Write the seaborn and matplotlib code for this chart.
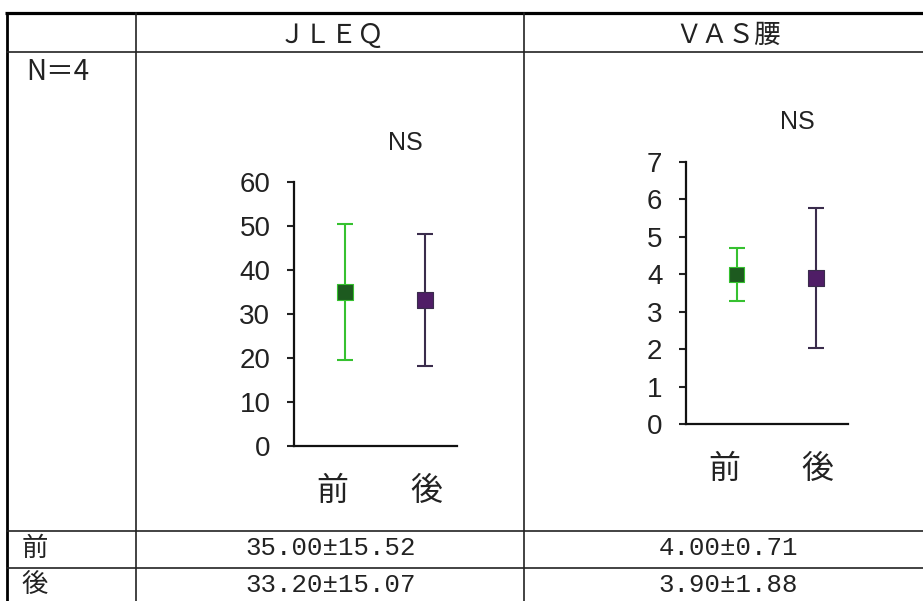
import numpy as np
import pandas as pd
import matplotlib
matplotlib.use("Agg")
import matplotlib.pyplot as plt
import seaborn as sns

# ---- data -------------------------------------------------------------
measures = ["ＪＬＥＱ", "ＶＡＳ腰"]
phases = ["前", "後"]
jleq_mean = [35.00, 33.20]
jleq_sd = [15.52, 15.07]
vas_mean = [4.00, 3.90]
vas_sd = [0.71, 1.88]
n_label = "N＝4"
sig_label = "NS"
jleq_ticks = [0, 10, 20, 30, 40, 50, 60]
vas_ticks = [0, 1, 2, 3, 4, 5, 6, 7]

# ---- style ------------------------------------------------------------
sns.set_style("ticks")
plt.rcParams["font.family"] = ["Liberation Sans", "Noto Sans CJK JP", "DejaVu Sans"]
plt.rcParams["axes.unicode_minus"] = False

bar_colors = ["#36c130", "#3a2c4c"]
marker_colors = ["#1d5a1f", "#4f1d66"]
cjk = ["Noto Sans CJK JP", "DejaVu Sans"]
mono = ["Liberation Mono", "Noto Sans CJK JP"]

W, H = 923, 601
fig = plt.figure(figsize=(W / 100, H / 100), dpi=100)
fig.patch.set_facecolor("white")

# ---- table frame drawn in pixel space --------------------------------
bg = fig.add_axes([0, 0, 1, 1])
bg.set_xlim(0, W)
bg.set_ylim(H, 0)
bg.axis("off")

col_x = [7, 136, 524]
top_y, head_y, row1_y, row2_y = 13, 52, 531, 568
bg.plot([5, W], [top_y, top_y], color="black", lw=2.3, solid_capstyle="butt")
bg.plot([col_x[0], col_x[0]], [top_y, H], color="black", lw=2.0)
for y in (head_y, row1_y, row2_y):
    bg.plot([col_x[0], W], [y, y], color="#222222", lw=1.2)
for x in col_x[1:]:
    bg.plot([x, x], [top_y, H], color="#222222", lw=1.2)

col_centres = [331, 728]
for name, cx in zip(measures, col_centres):
    bg.text(cx, 35, name, ha="center", va="center", fontsize=19,
            family=cjk, color="#222222")
bg.text(26, 72, n_label, ha="left", va="center", fontsize=20,
        family=cjk, color="#222222")

row_ys = [548, 585]
for ph, ry in zip(phases, row_ys):
    bg.text(35, ry, ph, ha="center", va="center", fontsize=19,
            family=cjk, color="#222222")

means = [jleq_mean, vas_mean]
sds = [jleq_sd, vas_sd]
for cx, m_list, s_list in zip(col_centres, means, sds):
    for ry, m, s in zip(row_ys, m_list, s_list):
        bg.text(cx, ry, f"{m:.2f}±{s:.2f}", ha="center", va="center",
                fontsize=18.5, family=mono, color="#222222")

# ---- the two mean ± SD charts ----------------------------------------
chart_boxes = [
    [294 / W, 1 - 446 / H, 163 / W, 264 / H],
    [686 / W, 1 - 424 / H, 162 / W, 262 / H],
]
tick_sets = [jleq_ticks, vas_ticks]
ns_pos = [(0.75, 68.9), (0.76, 8.07)]
label_shift = [-0.16, 0.02]

for box, m_list, s_list, ticks, nsp in zip(chart_boxes, means, sds,
                                           tick_sets, ns_pos):
    ax = fig.add_axes(box)
    df = pd.DataFrame({"phase": phases, "pos": np.arange(len(phases)),
                       "mean": m_list, "sd": s_list})
    for i, row in df.iterrows():
        ax.errorbar(row["pos"], row["mean"], yerr=row["sd"], fmt="none",
                    ecolor=bar_colors[i], elinewidth=1.5, capsize=5.5,
                    capthick=1.5, zorder=2)
    sns.scatterplot(data=df, x="pos", y="mean", hue="phase",
                    palette=marker_colors, marker="s", s=125,
                    edgecolor=bar_colors, linewidth=0.8, legend=False,
                    zorder=3, ax=ax)
    ax.set_xlim(-0.6375, 1.4)
    ax.set_ylim(ticks[0], ticks[-1])
    ax.set_yticks(ticks)
    ax.set_yticklabels([str(t) for t in ticks])
    ax.set_xticks(np.arange(len(phases)) + np.array(label_shift))
    ax.set_xticklabels(phases, family=cjk, fontsize=23)
    ax.set_xlabel("")
    ax.set_ylabel("")
    sns.despine(ax=ax)
    for sp in ("left", "bottom"):
        ax.spines[sp].set_linewidth(1.6)
        ax.spines[sp].set_color("#111111")
    ax.tick_params(axis="y", direction="out", length=5, width=1.5,
                   pad=12, labelsize=20, colors="#222222")
    ax.tick_params(axis="x", length=0, pad=21, colors="#222222")
    ax.set_facecolor("none")
    ax.text(nsp[0], nsp[1], sig_label, ha="center", va="center",
            fontsize=18, color="#222222", clip_on=False)

fig.savefig("out.png", dpi=100, facecolor="white")
